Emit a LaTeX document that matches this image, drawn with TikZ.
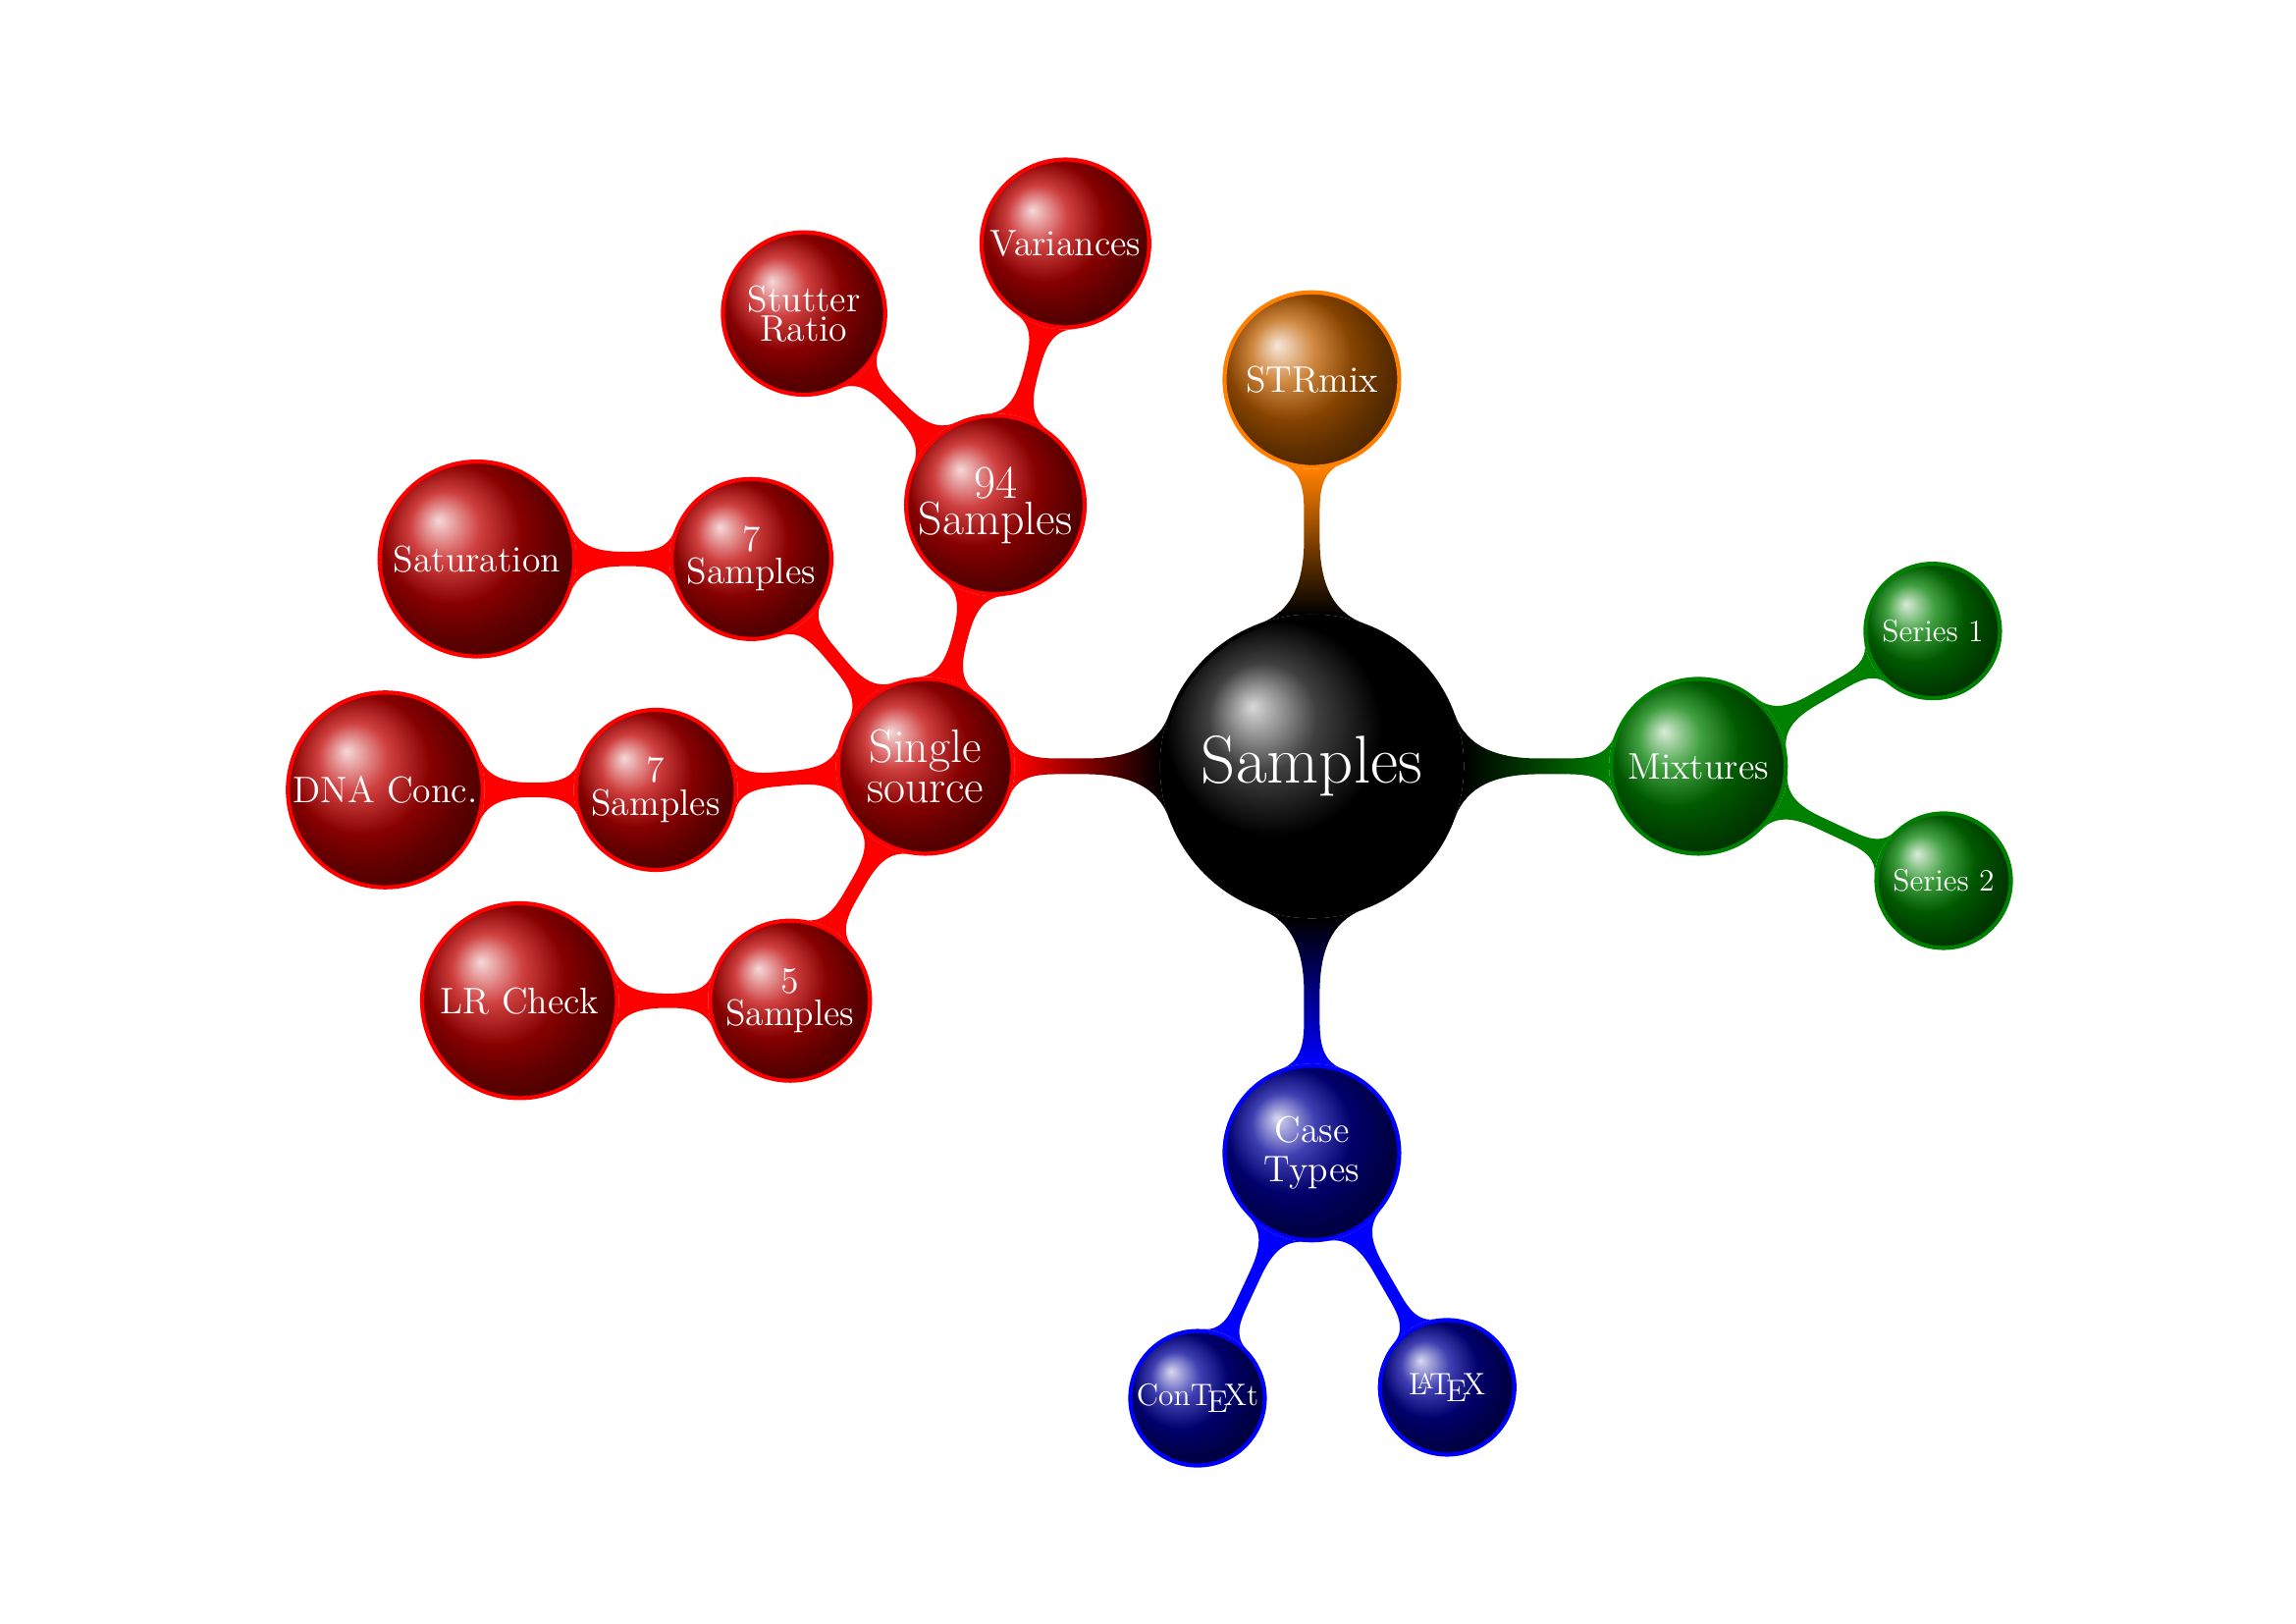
\documentclass[tikz,border=0pt]{standalone}
\usetikzlibrary{mindmap,backgrounds}

\colorlet{mixgreen}{green!50!black}
\tikzset{
  bubble/.style={circle, line width=1.5pt, text=white, inner sep=0pt, align=center},
  rootball/.style={bubble, draw=black, ball color=black},
  redball/.style={bubble, draw=red, ball color=red!75!black},
  orangeball/.style={bubble, draw=orange, ball color=orange!75!black},
  greenball/.style={bubble, draw=mixgreen, ball color=mixgreen},
  blueball/.style={bubble, draw=blue, ball color=blue!60!black},
  lvlone/.style={minimum size=2.26cm},
  lvltwo/.style={minimum size=2.07cm},
  leaf/.style={minimum size=1.74cm},
  bigtext/.style={font=\fontsize{17.28}{14.5}\selectfont},
  midtext/.style={font=\fontsize{13.6}{12}\selectfont},
  smalltext/.style={font=\fontsize{11.4}{13}\selectfont}
}

\begin{document}
\begin{tikzpicture}
  \useasboundingbox (-16.97,-11.09) rectangle (12.73,9.91);

  % root and first ring
  \node[rootball, minimum size=3.88cm, font=\fontsize{24.88}{30}\selectfont] (root) at (0,0) {Samples};
  \node[redball, lvlone, bigtext] (ss) at ([shift={(180:5)}]root) {Single\\source};
  \node[orangeball, lvlone, midtext] (strmix) at ([shift={(90:5)}]root) {STRmix};
  \node[greenball, lvlone, midtext] (mix) at ([shift={(0:5)}]root) {Mixtures};
  \node[blueball, lvlone, font=\fontsize{13.6}{14.5}\selectfont] (case) at ([shift={(270:5)}]root) {Case\\Types};

  % mixtures
  \node[greenball, leaf, smalltext] (ser1) at ([shift={(30:3.5)}]mix) {Series 1};
  \node[greenball, leaf, smalltext] (ser2) at ([shift={(-25:3.5)}]mix) {Series 2};

  % case types
  \node[blueball, leaf, smalltext] (context) at ([shift={(245:3.5)}]case) {Con\TeX t};
  \node[blueball, leaf, smalltext] (latex) at ([shift={(300:3.5)}]case) {\LaTeX};

  % single source
  \node[redball, minimum size=2.31cm, font=\fontsize{17.28}{12}\selectfont] (n94) at ([shift={(75:3.5)}]ss) {94\\Samples};
  \node[redball, minimum size=2.17cm, midtext] (var) at ([shift={(75:3.5)}]n94) {Variances};
  \node[redball, minimum size=2.10cm, font=\fontsize{13.6}{10.8}\selectfont] (stutter) at ([shift={(135:3.5)}]n94) {Stutter\\Ratio};
  \node[redball, lvltwo, midtext] (s7a) at ([shift={(130:3.5)}]ss) {7\\Samples};
  \node[redball, minimum size=2.52cm, midtext] (sat) at ([shift={(180:3.55)}]s7a) {Saturation};
  \node[redball, lvltwo, midtext] (s7b) at ([shift={(185:3.5)}]ss) {7\\Samples};
  \node[redball, minimum size=2.52cm, midtext] (dna) at ([shift={(180:3.5)}]s7b) {DNA Conc.};
  \node[redball, lvltwo, midtext] (s5) at ([shift={(240:3.5)}]ss) {5\\Samples};
  \node[redball, minimum size=2.52cm, midtext] (lr) at ([shift={(180:3.5)}]s5) {LR Check};

  % connection bars
  \begin{scope}[on background layer]
    \path (root) to[circle connection bar switch color=from (black) to (red)] (ss);
    \path (root) to[circle connection bar switch color=from (black) to (orange)] (strmix);
    \path (root) to[circle connection bar switch color=from (black) to (mixgreen)] (mix);
    \path (root) to[circle connection bar switch color=from (black) to (blue)] (case);
    \path[concept color=mixgreen] (mix) to[circle connection bar] (ser1);
    \path[concept color=mixgreen] (mix) to[circle connection bar] (ser2);
    \path[concept color=blue] (case) to[circle connection bar] (context);
    \path[concept color=blue] (case) to[circle connection bar] (latex);
    \path[concept color=red] (ss) to[circle connection bar] (n94);
    \path[concept color=red] (n94) to[circle connection bar] (var);
    \path[concept color=red] (n94) to[circle connection bar] (stutter);
    \path[concept color=red] (ss) to[circle connection bar] (s7a);
    \path[concept color=red] (s7a) to[circle connection bar] (sat);
    \path[concept color=red] (ss) to[circle connection bar] (s7b);
    \path[concept color=red] (s7b) to[circle connection bar] (dna);
    \path[concept color=red] (ss) to[circle connection bar] (s5);
    \path[concept color=red] (s5) to[circle connection bar] (lr);
  \end{scope}
\end{tikzpicture}
\end{document}
